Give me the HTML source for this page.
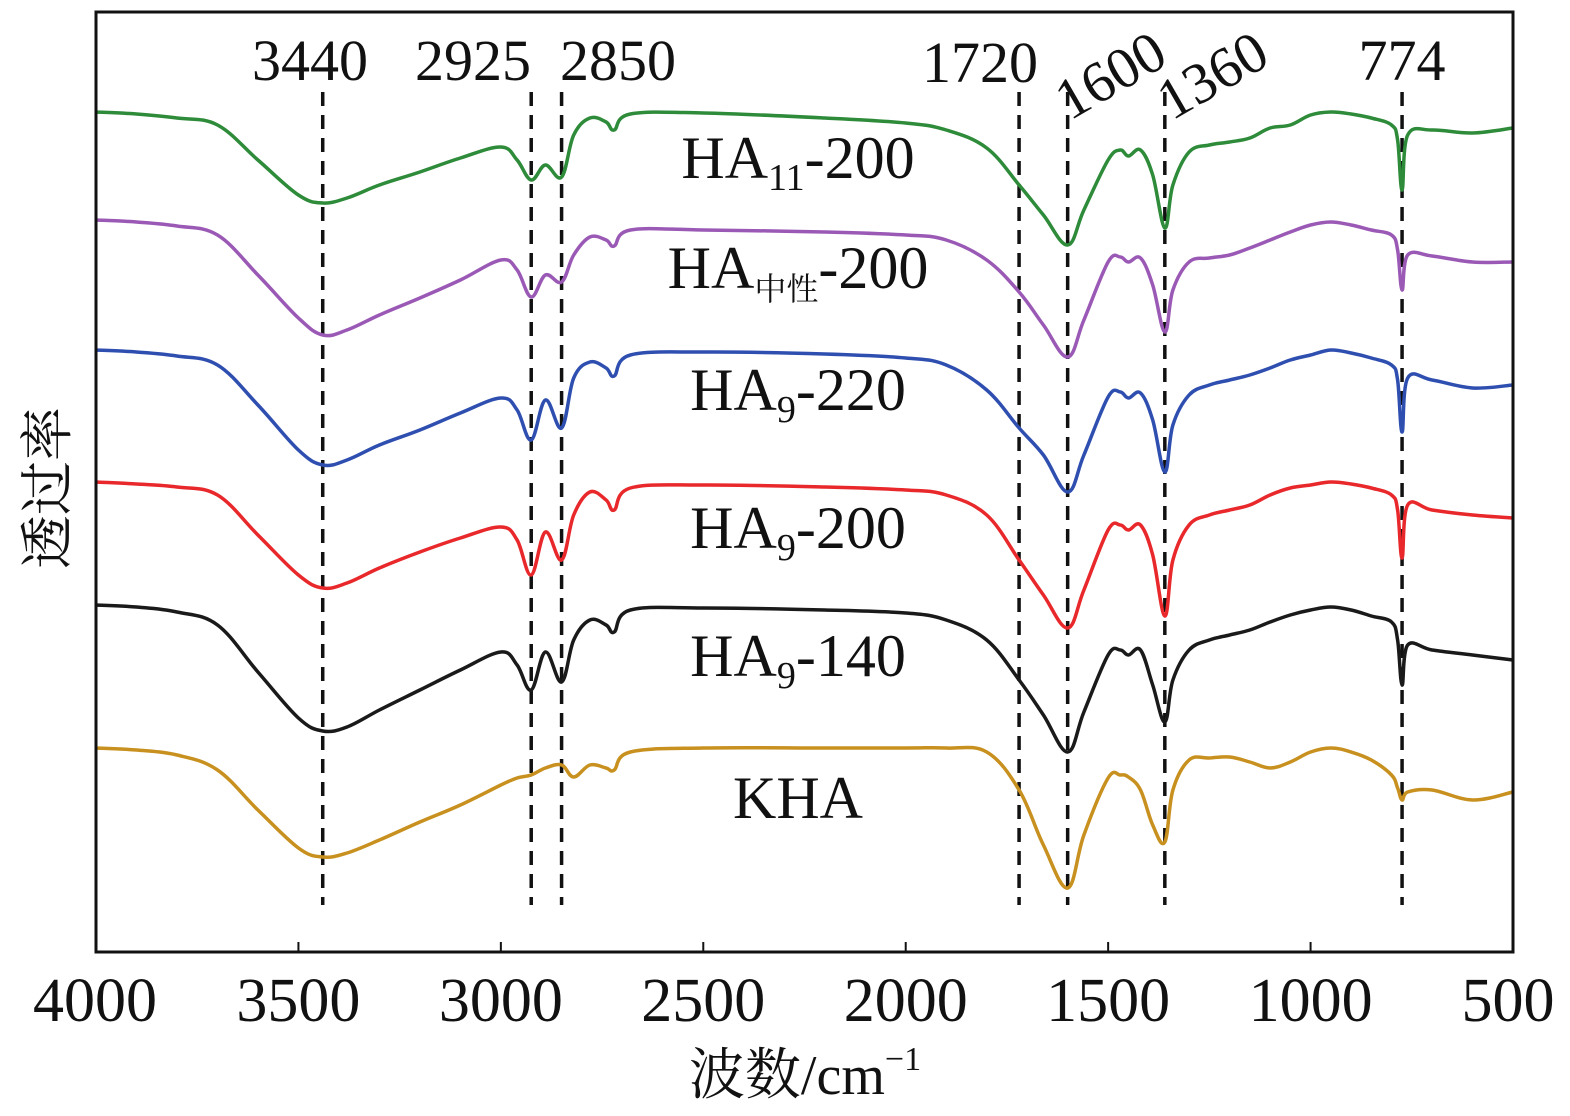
<!DOCTYPE html>
<html><head><meta charset="utf-8"><style>
body{margin:0;background:#fff;}
svg{display:block;}
text{font-family:"Liberation Serif","Noto Serif CJK SC",serif;fill:#111;}
</style></head><body>
<svg id="chart" width="1570" height="1116" viewBox="0 0 1570 1116" xmlns="http://www.w3.org/2000/svg">
<g id="marks"></g>
<rect x="96" y="12" width="1417" height="940" fill="none" stroke="#111" stroke-width="3"/>
<g id="axis"></g>
<text x="805" y="1094" font-size="56" text-anchor="middle">波数/cm<tspan font-size="34" dy="-24">−1</tspan></text>
<text transform="translate(66,488) rotate(-90)" font-size="54" text-anchor="middle">透过率</text>
</svg>
<script>
const wavenumbers=[4000,3900,3800,3700,3600,3500,3440,3380,3300,3200,3100,3000,2960,2925,2890,2850,2820,2780,2740,2720,2680,2500,2200,2000,1900,1800,1720,1660,1600,1560,1500,1470,1450,1420,1390,1360,1340,1300,1250,1200,1150,1100,1050,1000,950,900,850,800,785,774,760,700,600,500];
const seriesNames=["HA11-200","HA中性-200","HA9-220","HA9-200","HA9-140","KHA"];
const seriesColors=["#2e8b3a","#9b59b6","#2f4fb0","#e8282b","#1a1a1a","#c8901e"];
const tGreen=[888,886,882,875,840,805,797,802,815,828,842,853,840,820,835,823,865,882,878,870,886,887,882,877,870,852,815,785,755,790,840,850,844,850,825,772,815,848,855,858,862,872,875,885,888,886,882,875,860,810,865,870,867,872];
const tPurple=[780,778,774,765,725,682,665,670,685,702,720,740,730,703,725,718,745,763,760,754,770,770,768,765,760,740,708,675,643,680,738,743,738,742,715,668,710,738,742,745,752,760,768,775,778,775,770,765,750,710,745,744,738,738];
const tBlue=[650,648,644,635,595,550,535,540,555,570,587,602,590,560,600,572,622,638,632,624,645,648,646,642,635,610,572,545,508,545,603,608,602,607,580,528,575,605,615,620,625,632,640,645,650,647,642,635,620,568,622,620,612,615];
const tRed=[518,516,513,505,465,425,412,417,432,448,462,473,460,425,468,440,485,508,500,490,512,515,513,510,505,485,440,405,372,410,470,475,470,475,445,384,440,475,485,490,495,505,512,515,518,516,512,505,490,442,495,490,485,482];
const tBlack=[395,393,388,375,328,282,269,273,290,310,330,348,335,310,348,318,360,380,375,368,390,392,390,387,380,360,320,285,248,288,345,350,345,350,315,278,320,350,360,365,370,378,385,390,393,390,384,378,360,315,355,350,345,340];
const tKHA=[252,250,245,230,190,152,143,147,160,178,195,215,222,225,232,235,223,235,232,230,248,252,252,252,252,248,210,155,112,165,222,225,223,210,175,158,210,240,242,243,238,232,238,248,252,248,240,225,212,200,208,210,200,208];
const xTicks=[4000,3500,3000,2500,2000,1500,1000,500];
const peakMarks=[3440,2925,2850,1720,1600,1360,774];

const NS="http://www.w3.org/2000/svg";
const X0=96,X1=1513,Y0=952,Y1=12;
const xs=v=>X0+(4000-v)/(4000-500)*(X1-X0);
const ys=v=>Y0-(v-48)/(988-48)*(Y0-Y1);
const marks=document.getElementById('marks');
const axis=document.getElementById('axis');
function mk(tag,attrs,parent){const e=document.createElementNS(NS,tag);for(const k in attrs)e.setAttribute(k,attrs[k]);parent.appendChild(e);return e;}
function smooth(pts){
  let d='M'+pts[0][0].toFixed(1)+','+pts[0][1].toFixed(1);
  for(let i=0;i<pts.length-1;i++){
    const p0=pts[Math.max(0,i-1)],p1=pts[i],p2=pts[i+1],p3=pts[Math.min(pts.length-1,i+2)];
    const t=0.18;
    const c1=[p1[0]+(p2[0]-p0[0])*t,p1[1]+(p2[1]-p0[1])*t];
    const c2=[p2[0]-(p3[0]-p1[0])*t,p2[1]-(p3[1]-p1[1])*t];
    d+=' C'+c1[0].toFixed(1)+','+c1[1].toFixed(1)+' '+c2[0].toFixed(1)+','+c2[1].toFixed(1)+' '+p2[0].toFixed(1)+','+p2[1].toFixed(1);
  }
  return d;
}

peakMarks.forEach(p=>{
  const l=mk('line',{x1:xs(p),x2:xs(p),y1:92,y2:905,stroke:'#111','stroke-width':3.5,'stroke-dasharray':'14,9'},marks);
  
  
});
const labelPos=[[3440,310,80,0],[2925,473,80,0],[2850,618,80,0],[1720,980,82,0],[1600,1120,92,-30],[1360,1222,92,-30],[774,1402,80,0]];
labelPos.forEach(a=>{
  const t=mk('text',{x:a[1],y:a[2],'font-size':58,'text-anchor':'middle'},marks);
  if(a[3])t.setAttribute('transform','rotate('+a[3]+' '+a[1]+' '+a[2]+')');
  t.textContent=a[0];
  
  
});
const allSeries=[tGreen,tPurple,tBlue,tRed,tBlack,tKHA];
allSeries.forEach((vals,i)=>{
  const pts=vals.map((v,j)=>[xs(wavenumbers[j]),ys(v)]);
  const p=mk('path',{d:smooth(pts),fill:'none',stroke:seriesColors[i],'stroke-width':3.5,'stroke-linejoin':'round'},marks);
  
  
});
const lbl=[["HA","11","-200",178],["HA","中性","-200",288],["HA","9","-220",410],["HA","9","-200",548],["HA","9","-140",676],["KHA","","",818]];
lbl.forEach((a,i)=>{
  const t=mk('text',{x:798,y:a[3],'font-size':60,'text-anchor':'middle'},marks);
  const s1=document.createElementNS(NS,'tspan');s1.textContent=a[0];t.appendChild(s1);
  if(a[1]){const s2=mk('tspan',{'font-size':a[1]==='中性'?32:38,dy:12},t);s2.textContent=a[1];
    const s3=mk('tspan',{dy:-12},t);s3.textContent=a[2];}
  
  
});
xTicks.forEach(v=>{
  const l=mk('line',{x1:xs(v),x2:xs(v),y1:Y0,y2:Y0-10,stroke:'#111','stroke-width':2},axis);
  
  
  let x=xs(v);if(v===4000)x=95;if(v===500)x=1508;
  const t=mk('text',{x:x,y:1021,'font-size':62,'text-anchor':'middle'},axis);
  t.textContent=v;
  
  
});
</script>
</body></html>
